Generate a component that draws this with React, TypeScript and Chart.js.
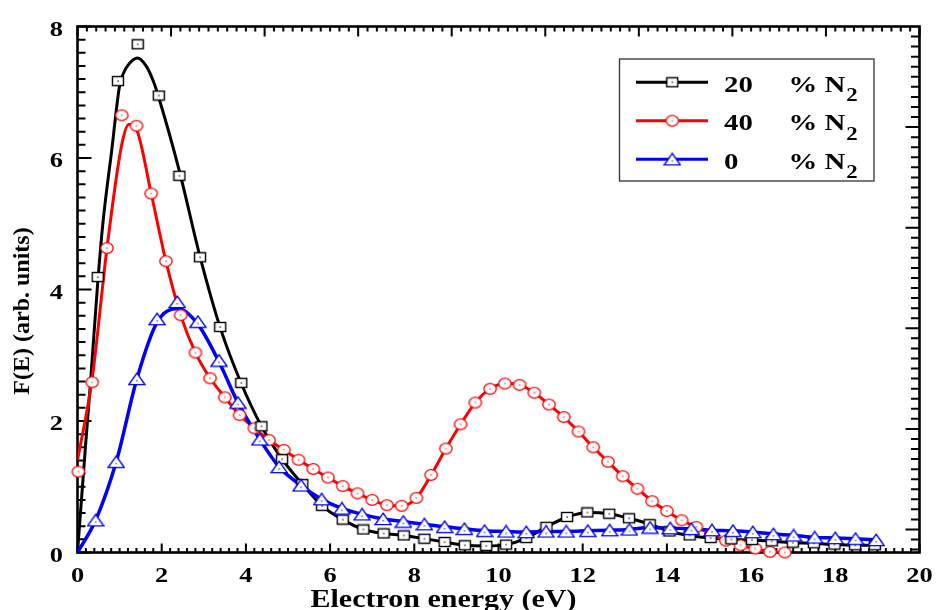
import React, { useEffect, useRef } from "react";
import { Chart, registerables } from "chart.js";

Chart.register(...registerables);

// ---------- data ----------
const xTickLabels = [0, 2, 4, 6, 8, 10, 12, 14, 16, 18, 20];
const yTickLabels = [0, 2, 4, 6, 8];
const xTitle = "Electron energy (eV)";
const yTitle = "F(E) (arb. units)";
const seriesNames = ["20", "40", "0"];
const legendUnit = "% N";
const legendSub = "2";

// 20 % N2 (black squares)
const blackMarkX = [0.48, 0.96, 1.43, 1.93, 2.42, 2.91, 3.39, 3.89, 4.37, 4.86, 5.34, 5.81, 6.30, 6.79, 7.27, 7.75, 8.24, 8.72, 9.20, 9.71, 10.18, 10.66, 11.14, 11.63, 12.11, 12.63, 13.10, 13.59, 14.06, 14.54, 15.04, 15.53, 16.02, 16.49, 16.99, 17.49, 17.98, 18.47, 18.94];
const blackMarkY = [4.19, 7.17, 7.73, 6.95, 5.73, 4.49, 3.43, 2.58, 1.92, 1.42, 1.04, 0.71, 0.50, 0.35, 0.29, 0.26, 0.21, 0.16, 0.11, 0.10, 0.12, 0.22, 0.39, 0.54, 0.61, 0.59, 0.52, 0.43, 0.32, 0.26, 0.22, 0.20, 0.19, 0.17, 0.15, 0.14, 0.12, 0.11, 0.11];
const blackCurveX = [0, 0.2, 0.31, 0.48, 0.61, 0.81, 1.0, 1.1, 1.21, 1.42, 1.64, 1.8, 1.93, 2.42, 2.91, 3.39, 3.89];
const blackCurveY = [0, 1.7, 2.6, 4.1, 5.05, 6.1, 7.1, 7.3, 7.42, 7.52, 7.39, 7.17, 6.92, 5.8, 4.5, 3.42, 2.57];

// 40 % N2 (red circles)
const redMarkX = [0.02, 0.35, 0.70, 1.05, 1.40, 1.75, 2.10, 2.45, 2.80, 3.15, 3.50, 3.85, 4.20, 4.55, 4.90, 5.25, 5.60, 5.95, 6.30, 6.65, 7.00, 7.35, 7.70, 8.05, 8.40, 8.75, 9.10, 9.45, 9.80, 10.15, 10.50, 10.85, 11.20, 11.55, 11.90, 12.25, 12.60, 12.95, 13.30, 13.65, 14.00, 14.35, 14.70, 15.05, 15.40, 15.75, 16.10, 16.45, 16.80];
const redMarkY = [1.23, 2.59, 4.63, 6.65, 6.49, 5.46, 4.43, 3.61, 3.04, 2.65, 2.36, 2.09, 1.89, 1.71, 1.56, 1.41, 1.27, 1.14, 1.01, 0.90, 0.80, 0.72, 0.71, 0.83, 1.18, 1.58, 1.95, 2.28, 2.49, 2.57, 2.55, 2.43, 2.25, 2.06, 1.84, 1.60, 1.38, 1.16, 0.97, 0.78, 0.63, 0.49, 0.39, 0.28, 0.18, 0.11, 0.06, 0.01, 0.00];
const redCurveX = [0, 0.35, 0.70, 1.05, 1.22, 1.39, 1.75, 2.10];
const redCurveY = [1.4, 2.65, 4.63, 6.2, 6.51, 6.45, 5.46, 4.43];

// 0 % N2 (blue triangles)
const blueMarkX = [0.43, 0.92, 1.41, 1.89, 2.37, 2.86, 3.36, 3.81, 4.33, 4.79, 5.31, 5.80, 6.28, 6.76, 7.26, 7.74, 8.24, 8.72, 9.19, 9.67, 10.18, 10.66, 11.13, 11.61, 12.12, 12.64, 13.11, 13.60, 14.08, 14.58, 15.07, 15.57, 16.04, 16.53, 17.01, 17.51, 18.00, 18.48, 18.97];
const blueMarkY = [0.49, 1.38, 2.64, 3.55, 3.81, 3.51, 2.92, 2.28, 1.72, 1.30, 1.02, 0.81, 0.67, 0.58, 0.51, 0.47, 0.43, 0.39, 0.36, 0.33, 0.32, 0.31, 0.32, 0.32, 0.33, 0.34, 0.35, 0.38, 0.37, 0.36, 0.34, 0.33, 0.31, 0.28, 0.26, 0.23, 0.22, 0.21, 0.19];
const blueCurveX = [0, 0.43, 0.92, 1.41, 1.89, 2.38, 2.86, 3.36];
const blueCurveY = [0, 0.49, 1.38, 2.64, 3.5, 3.71, 3.47, 2.9];

// axis frame tick settings
const xMinorStep = 0.2;
const yMinorStep = 0.2;
const topDivisions = 9;
const rightMajorStep = 1.53;

// ---------- helpers ----------
const FONT = "'Liberation Serif', 'Times New Roman', serif";
const SX = 1.2;

function pts(xs: number[], ys: number[]) {
  return xs.map((x, i) => ({ x, y: ys[i] }));
}
function curve(hx: number[], hy: number[], mx: number[], my: number[]) {
  const head = pts(hx, hy);
  const last = hx[hx.length - 1];
  const tail = pts(mx, my).filter((p) => p.x > last + 0.01);
  return head.concat(tail);
}

function makeMarker(kind: string, color: string): HTMLCanvasElement {
  const c = document.createElement("canvas");
  if (kind === "square") {
    c.width = 14; c.height = 12;
    const g = c.getContext("2d")!;
    g.fillStyle = "#fff";
    g.fillRect(1.5, 1.5, 11, 9);
    g.strokeStyle = color; g.lineWidth = 1.4;
    g.strokeRect(1.5, 1.5, 11, 9);
    g.fillStyle = color;
    g.fillRect(6.4, 5.4, 1.3, 1.3);
  } else if (kind === "circle") {
    c.width = 16; c.height = 14;
    const g = c.getContext("2d")!;
    g.beginPath();
    g.ellipse(8, 7, 6.2, 5.3, 0, 0, Math.PI * 2);
    g.fillStyle = "#fff"; g.fill();
    g.strokeStyle = color; g.lineWidth = 1.3; g.stroke();
    g.fillStyle = color;
    g.fillRect(7.4, 6.4, 1.2, 1.2);
  } else {
    c.width = 18; c.height = 14;
    const g = c.getContext("2d")!;
    g.beginPath();
    g.moveTo(9, 1.2); g.lineTo(17, 12.6); g.lineTo(1, 12.6); g.closePath();
    g.fillStyle = "#fff"; g.fill();
    g.strokeStyle = color; g.lineWidth = 1.4; g.stroke();
    g.fillStyle = color;
    g.fillRect(8.4, 8.2, 1.2, 1.2);
  }
  return c;
}

function stretchText(ctx: CanvasRenderingContext2D, text: string, x: number, y: number, align: string, font: string, sx = SX) {
  ctx.save();
  ctx.font = font;
  ctx.textBaseline = "alphabetic";
  ctx.textAlign = "left";
  const w = ctx.measureText(text).width * sx;
  let left = x;
  if (align === "center") left = x - w / 2;
  else if (align === "right") left = x - w;
  ctx.translate(left, y);
  ctx.scale(sx, 1);
  ctx.fillText(text, 0, 0);
  ctx.restore();
  return w;
}

export default function App() {
  const ref = useRef<HTMLCanvasElement>(null);

  useEffect(() => {
    const canvas = ref.current!;
    const sq = makeMarker("square", "#000000");
    const ci = makeMarker("circle", "#ff0000");
    const tr = makeMarker("triangle", "#0000ff");
    const markers = [sq, ci, tr];
    const colors = ["#000000", "#ff0000", "#0000ff"];

    const framePlugin = {
      id: "frame",
      beforeDatasetsDraw(chart: any) {
        const { ctx, chartArea, scales } = chart;
        const { left, right, top, bottom } = chartArea;
        const xs = scales.x, ys = scales.y;
        ctx.save();
        ctx.strokeStyle = "#000";
        ctx.lineWidth = 2;
        ctx.beginPath();
        const nX = Math.round(20 / xMinorStep);
        for (let i = 0; i <= nX; i++) {
          const px = xs.getPixelForValue(i * xMinorStep);
          const len = i % 10 === 0 ? 9 : 4.5;
          ctx.moveTo(px, bottom); ctx.lineTo(px, bottom - len);
        }
        const nY = Math.round(8 / yMinorStep);
        for (let i = 0; i <= nY; i++) {
          const py = ys.getPixelForValue(i * yMinorStep);
          const len = i % 10 === 0 ? 14 : 8;
          ctx.moveTo(left, py); ctx.lineTo(left + len, py);
        }
        const nT = topDivisions * 10;
        for (let i = 0; i <= nT; i++) {
          const px = xs.getPixelForValue((i * 20) / nT);
          const len = i % 10 === 0 ? 10 : 5;
          ctx.moveTo(px, top); ctx.lineTo(px, top + len);
        }
        const rStep = rightMajorStep / 10;
        for (let j = 1; 8 - j * rStep >= 0; j++) {
          const py = ys.getPixelForValue(8 - j * rStep);
          const len = j % 10 === 0 ? 14 : 8.5;
          ctx.moveTo(right, py); ctx.lineTo(right - len, py);
        }
        ctx.stroke();
        ctx.lineWidth = 2.6;
        ctx.strokeRect(left, top, right - left, bottom - top);
        ctx.restore();
      },
    };

    const textPlugin = {
      id: "texts",
      afterDraw(chart: any) {
        const { ctx, chartArea, scales } = chart;
        const { right, top, bottom, left } = chartArea;
        ctx.save();
        ctx.fillStyle = "#000";
        const tickFont = `bold 22px ${FONT}`;
        xTickLabels.forEach((v) => {
          stretchText(ctx, String(v), scales.x.getPixelForValue(v), bottom + 29.5, "center", tickFont);
        });
        yTickLabels.forEach((v) => {
          stretchText(ctx, String(v), left - 14.5, scales.y.getPixelForValue(v) + 9, "right", tickFont);
        });
        // x title
        stretchText(ctx, xTitle, left + 366, bottom + 54.5, "center", `bold 25px ${FONT}`);
        // y title
        ctx.save();
        ctx.translate(28.5, 311);
        ctx.rotate(-Math.PI / 2);
        ctx.font = `bold 24px ${FONT}`;
        ctx.textAlign = "center";
        ctx.textBaseline = "alphabetic";
        ctx.fillText(yTitle, 0, 0);
        ctx.restore();

        // legend box
        const bx = right - 300, by = top + 32.5, bw = 254.5, bh = 122;
        ctx.fillStyle = "#fff";
        ctx.fillRect(bx, by, bw, bh);
        ctx.strokeStyle = "#333";
        ctx.lineWidth = 1.3;
        ctx.strokeRect(bx, by, bw, bh);
        const rowY = [by + 23.3, by + 61.7, by + 100.3];
        seriesNames.forEach((name, i) => {
          const y = rowY[i];
          ctx.strokeStyle = colors[i];
          ctx.lineWidth = 3;
          ctx.beginPath();
          ctx.moveTo(bx + 16.5, y);
          ctx.lineTo(bx + 88.5, y);
          ctx.stroke();
          const m = markers[i];
          ctx.drawImage(m, bx + 52.8 - m.width / 2, y - m.height / 2);
          ctx.fillStyle = "#000";
          stretchText(ctx, name, bx + 104.5, y + 9.3, "left", `bold 24px ${FONT}`);
          const w = stretchText(ctx, legendUnit, bx + 169, y + 9.3, "left", `bold 24px ${FONT}`);
          stretchText(ctx, legendSub, bx + 169 + w + 1, y + 19, "left", `bold 19px ${FONT}`);
        });
        ctx.restore();
      },
    };

    const lineBase = {
      showLine: true,
      pointRadius: 0,
      pointHoverRadius: 0,
      cubicInterpolationMode: "monotone",
      fill: false,
      order: 2,
    };
    const markBase = {
      showLine: false,
      pointRadius: 5,
      pointHoverRadius: 5,
      clip: false,
      order: 1,
    };

    const chart = new Chart(canvas, {
      type: "scatter",
      data: {
        datasets: [
          { ...markBase, label: "blue marks", data: pts(blueMarkX, blueMarkY), pointStyle: tr, borderColor: "#0000ff", backgroundColor: "#fff" },
          { ...markBase, label: "black marks", data: pts(blackMarkX, blackMarkY), pointStyle: sq, borderColor: "#000", backgroundColor: "#fff" },
          { ...markBase, label: "red marks", data: pts(redMarkX, redMarkY), pointStyle: ci, borderColor: "#ff0000", backgroundColor: "#fff" },
          { ...lineBase, label: "0 % N2", data: curve(blueCurveX, blueCurveY, blueMarkX, blueMarkY), borderColor: "#0000ff", borderWidth: 3.5 },
          { ...lineBase, label: "40 % N2", data: curve(redCurveX, redCurveY, redMarkX, redMarkY), borderColor: "#ff0000", borderWidth: 3 },
          { ...lineBase, label: "20 % N2", data: curve(blackCurveX, blackCurveY, blackMarkX, blackMarkY), borderColor: "#000000", borderWidth: 3 },
        ] as any,
      },
      options: {
        responsive: false,
        animation: false,
        events: [],
        layout: { padding: { left: 77.5, right: 16.5, top: 26.5, bottom: 57.5 } },
        scales: {
          x: { type: "linear", min: 0, max: 20, display: false },
          y: { type: "linear", min: 0, max: 8, display: false },
        },
        plugins: {
          legend: { display: false },
          tooltip: { enabled: false },
        },
      } as any,
      plugins: [framePlugin, textPlugin],
    });
    return () => chart.destroy();
  }, []);

  return (
    <div style={{ position: "fixed", left: 0, top: 0, width: 936, height: 610, background: "#fff" }}>
      <canvas ref={ref} width={936} height={610} style={{ display: "block" }} />
    </div>
  );
}
